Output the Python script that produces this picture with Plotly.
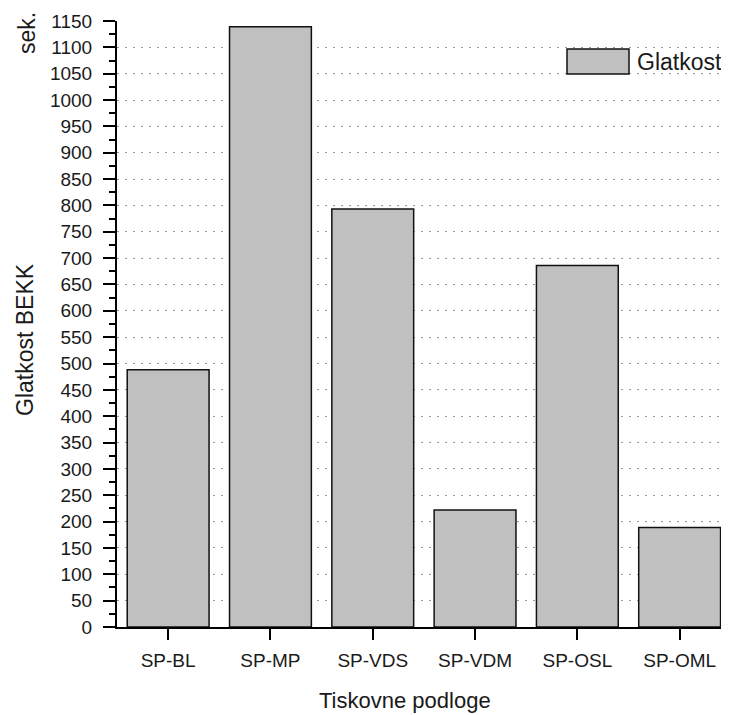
import plotly.graph_objects as go

categories = ["SP-BL", "SP-MP", "SP-VDS", "SP-VDM", "SP-OSL", "SP-OML"]
glatkost = [488, 1139, 793, 222, 686, 189]
series_name = "Glatkost"
y_title = "Glatkost BEKK"
y_unit = "sek."
x_title = "Tiskovne podloge"
y_ticks = list(range(0, 1151, 50))

FONT = "Liberation Sans, Arial, sans-serif"
TXT = "#1a1a1a"

# the page body has an 8px margin; work in page pixels and shift by OFF
OFF = 8
W, H = 729 - OFF, 715 - OFF
PL, PR, PT, PB = 117, 729, 21, 627   # plot area in page pixels
L = PL - OFF
R = W - (PR - OFF)
T = PT - OFF
B = H - (PB - OFF)

pitch = 102.3
x_hi = -0.5 + (PR - PL) / pitch

fig = go.Figure()
fig.add_trace(go.Bar(
    x=categories, y=glatkost, name=series_name,
    marker=dict(color="#c0c0c0", line=dict(color="#111111", width=1.5)),
    showlegend=False,
))

fig.update_layout(
    width=W, height=H,
    margin=dict(l=L, r=R, t=T, b=B, autoexpand=False),
    plot_bgcolor="white", paper_bgcolor="white",
    bargap=0.2,
    font=dict(family=FONT, size=19, color=TXT),
)

fig.update_xaxes(
    range=[-0.5, x_hi],
    showline=True, linecolor="black", linewidth=2,
    ticks="outside", ticklen=11, tickwidth=2, tickcolor="black",
    showgrid=False, zeroline=False,
    tickfont=dict(family=FONT, size=19, color=TXT),
    ticklabelstandoff=4,
)

fig.update_yaxes(
    range=[0, 1150],
    tickvals=y_ticks,
    showline=True, linecolor="black", linewidth=2,
    ticks="outside", ticklen=12, tickwidth=2, tickcolor="black",
    showgrid=True, gridcolor="#9a9a9a", gridwidth=1, griddash="2px,6px",
    zeroline=False,
    tickfont=dict(family=FONT, size=19, color=TXT),
    ticklabelstandoff=7,
    minor=dict(dtick=25, ticks="outside", ticklen=6, tickwidth=2,
               tickcolor="black", showgrid=False),
)

plot_w = PR - PL
plot_h = PB - PT

def px_x(px):
    return (px - PL) / plot_w

def px_y(py):
    return (PB - py) / plot_h

# axis titles
fig.add_annotation(text=x_title, xref="paper", yref="paper",
                   x=px_x(405), y=px_y(700), showarrow=False,
                   font=dict(family=FONT, size=22, color=TXT),
                   xanchor="center", yanchor="middle")
fig.add_annotation(text=y_title, xref="paper", yref="paper",
                   x=px_x(25), y=px_y(340), showarrow=False, textangle=-90,
                   font=dict(family=FONT, size=23, color=TXT),
                   xanchor="center", yanchor="middle")
fig.add_annotation(text=y_unit, xref="paper", yref="paper",
                   x=px_x(27), y=px_y(33), showarrow=False, textangle=-90,
                   font=dict(family=FONT, size=23, color=TXT),
                   xanchor="center", yanchor="middle")

# legend
fig.add_shape(type="rect", xref="paper", yref="paper",
              x0=px_x(567), x1=px_x(629), y0=px_y(74), y1=px_y(49),
              fillcolor="#c0c0c0", line=dict(color="#111111", width=1.5))
fig.add_annotation(text=series_name, xref="paper", yref="paper",
                   x=px_x(635), y=px_y(62), showarrow=False,
                   font=dict(family=FONT, size=23, color=TXT),
                   xanchor="left", yanchor="middle")

fig.write_html("out.html")
